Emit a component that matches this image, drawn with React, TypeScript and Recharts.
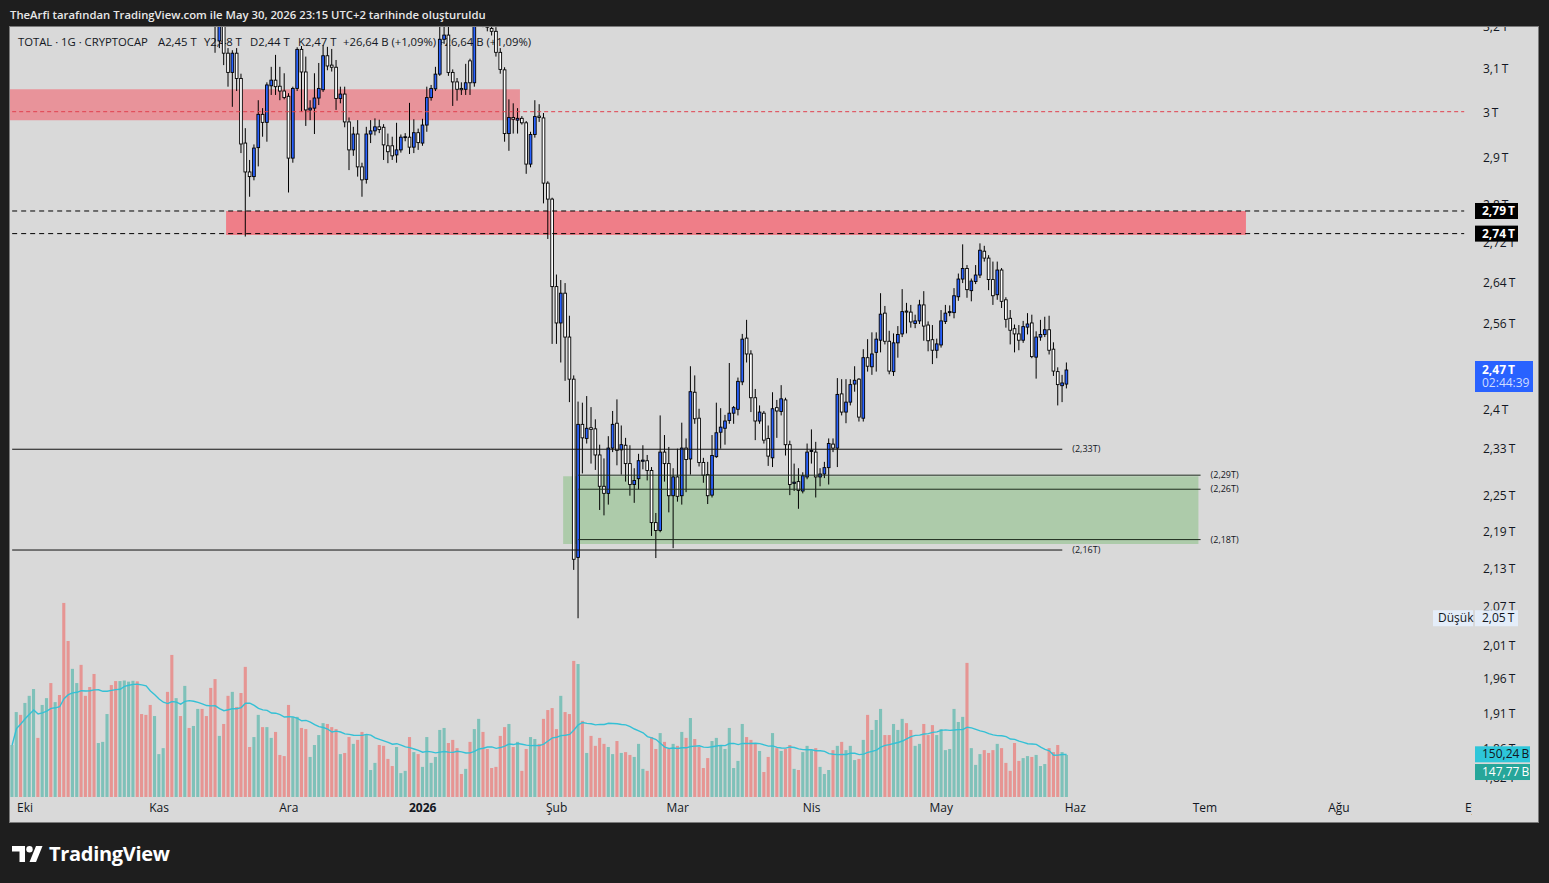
import React from 'react';
import { ComposedChart, Bar, Line, XAxis, YAxis, ReferenceArea, ReferenceLine } from 'recharts';

// Day index: 0 = 1 Oca 2026. First daily bar = 28 Eyl 2025 (-95), last = 30 May 2026 (149).
const FIRST_DAY = -95;
const LAST_SLOT = 243; // time axis runs on into the future (1 Eyl 2026)

const opens = [
  3.78, 3.86, 3.98, 3.95, 4.05, 4.12, 4.20, 4.15, 4.22, 4.28,
  4.18, 4.22, 4.10, 3.80, 3.75, 3.88, 3.95, 3.82, 3.78, 3.70,
  3.62, 3.68, 3.72, 3.78, 3.70, 3.66, 3.72, 3.80, 3.85, 3.88,
  3.82, 3.75, 3.70, 3.62, 3.65, 3.68, 3.72, 3.55, 3.40, 3.45,
  3.36, 3.42, 3.38, 3.45, 3.50, 3.42, 3.34, 3.26, 3.167, 3.23,
  3.138, 3.093, 3.138, 3.079, 2.933, 2.870, 2.860, 2.923, 2.997, 2.979,
  3.062, 3.075, 3.061, 3.050, 3.038, 2.900, 3.056, 3.147, 3.094, 3.007,
  3.011, 3.034, 3.053, 3.132, 3.110, 3.105, 3.033, 3.043, 2.980, 2.918,
  2.953, 2.881, 2.854, 2.953, 2.960, 2.969, 2.968, 2.927, 2.927, 2.907,
  2.918, 2.945, 2.946, 2.924, 2.956, 2.933, 2.973, 3.035, 3.055, 3.089,
  3.171, 3.181, 3.093, 3.071, 3.056, 3.054, 3.120, 3.069, 3.240, 3.280,
  3.220, 3.197, 3.190, 3.140, 3.099, 2.954, 2.990, 2.984, 2.988, 2.978,
  2.887, 2.952, 2.993, 2.989, 2.846, 2.812, 2.633, 2.562, 2.620, 2.535,
  2.456, 2.148, 2.374, 2.349, 2.368, 2.366, 2.320, 2.266, 2.254, 2.332,
  2.376, 2.329, 2.337, 2.305, 2.269, 2.279, 2.309, 2.310, 2.293, 2.205,
  2.192, 2.325, 2.305, 2.250, 2.282, 2.250, 2.332, 2.313, 2.432, 2.385,
  2.307, 2.286, 2.251, 2.317, 2.360, 2.367, 2.381, 2.394, 2.401, 2.451,
  2.533, 2.503, 2.422, 2.380, 2.394, 2.349, 2.315, 2.404, 2.397, 2.418,
  2.338, 2.271, 2.274, 2.258, 2.282, 2.326, 2.325, 2.282, 2.287, 2.298,
  2.339, 2.332, 2.429, 2.396, 2.414, 2.447, 2.456, 2.385, 2.496, 2.479,
  2.506, 2.529, 2.581, 2.527, 2.470, 2.524, 2.541, 2.585, 2.583, 2.561,
  2.566, 2.597, 2.558, 2.530, 2.510, 2.520, 2.565, 2.582, 2.582, 2.613,
  2.648, 2.669, 2.625, 2.643, 2.656, 2.704, 2.690, 2.647, 2.617, 2.666,
  2.607, 2.571, 2.551, 2.541, 2.529, 2.554, 2.562, 2.497, 2.535, 2.540,
  2.549, 2.512, 2.470, 2.444, 2.447,
];

const highs = [
  3.90, 4.01, 4.03, 4.08, 4.15, 4.24, 4.25, 4.26, 4.31, 4.30,
  4.25, 4.24, 4.15, 3.92, 3.92, 3.99, 3.97, 3.86, 3.81, 3.74,
  3.71, 3.76, 3.81, 3.80, 3.73, 3.75, 3.83, 3.88, 3.92, 3.90,
  3.85, 3.78, 3.72, 3.68, 3.71, 3.76, 3.74, 3.58, 3.49, 3.47,
  3.45, 3.46, 3.48, 3.53, 3.52, 3.44, 3.36, 3.28, 3.26, 3.25,
  3.150, 3.145, 3.150, 3.090, 2.966, 2.896, 2.930, 3.029, 3.011, 3.070,
  3.106, 3.134, 3.106, 3.091, 3.045, 3.060, 3.152, 3.155, 3.130, 3.029,
  3.091, 3.115, 3.157, 3.153, 3.148, 3.122, 3.060, 3.060, 2.990, 2.969,
  2.984, 2.890, 2.969, 2.984, 2.988, 2.985, 2.975, 2.954, 2.947, 2.978,
  2.952, 2.955, 3.023, 2.986, 2.965, 2.987, 3.060, 3.064, 3.106, 3.210,
  3.220, 3.210, 3.100, 3.080, 3.070, 3.113, 3.125, 3.250, 3.300, 3.300,
  3.240, 3.210, 3.200, 3.150, 3.105, 3.031, 3.022, 3.011, 2.993, 2.982,
  2.958, 3.029, 3.020, 3.000, 2.850, 2.815, 2.657, 2.646, 2.640, 2.576,
  2.463, 2.415, 2.413, 2.425, 2.405, 2.383, 2.338, 2.314, 2.353, 2.398,
  2.419, 2.372, 2.350, 2.337, 2.297, 2.322, 2.337, 2.320, 2.299, 2.221,
  2.390, 2.355, 2.334, 2.297, 2.331, 2.377, 2.349, 2.480, 2.463, 2.402,
  2.315, 2.308, 2.355, 2.413, 2.403, 2.391, 2.486, 2.407, 2.459, 2.541,
  2.568, 2.510, 2.438, 2.408, 2.398, 2.372, 2.432, 2.418, 2.445, 2.422,
  2.345, 2.305, 2.297, 2.290, 2.340, 2.365, 2.343, 2.297, 2.308, 2.349,
  2.349, 2.458, 2.456, 2.456, 2.456, 2.480, 2.458, 2.512, 2.531, 2.544,
  2.544, 2.620, 2.595, 2.547, 2.542, 2.556, 2.628, 2.601, 2.597, 2.578,
  2.607, 2.624, 2.565, 2.558, 2.532, 2.587, 2.597, 2.596, 2.630, 2.659,
  2.718, 2.676, 2.649, 2.676, 2.720, 2.715, 2.696, 2.683, 2.683, 2.670,
  2.612, 2.587, 2.559, 2.558, 2.566, 2.581, 2.578, 2.546, 2.568, 2.574,
  2.576, 2.525, 2.478, 2.464, 2.487,
];

const lows = [
  3.74, 3.84, 3.91, 3.93, 4.02, 4.09, 4.10, 4.12, 4.18, 4.14,
  4.15, 4.05, 3.62, 3.70, 3.72, 3.84, 3.78, 3.74, 3.64, 3.58,
  3.60, 3.65, 3.69, 3.66, 3.62, 3.64, 3.70, 3.77, 3.82, 3.78,
  3.71, 3.66, 3.56, 3.58, 3.61, 3.65, 3.50, 3.33, 3.36, 3.32,
  3.33, 3.34, 3.35, 3.42, 3.38, 3.30, 3.23, 3.139, 3.15, 3.110,
  3.060, 3.014, 3.050, 2.911, 2.734, 2.817, 2.852, 2.882, 2.947, 2.936,
  3.041, 3.041, 3.029, 3.031, 2.826, 2.890, 3.050, 3.003, 2.971, 2.984,
  2.953, 3.018, 3.048, 3.098, 3.095, 3.007, 3.022, 2.968, 2.874, 2.905,
  2.860, 2.817, 2.845, 2.933, 2.950, 2.955, 2.896, 2.889, 2.896, 2.890,
  2.912, 2.937, 2.909, 2.911, 2.918, 2.927, 2.958, 3.028, 3.050, 3.085,
  3.160, 3.085, 3.016, 3.028, 3.041, 3.041, 3.041, 3.060, 3.220, 3.200,
  3.190, 3.180, 3.130, 3.090, 2.936, 2.916, 2.954, 2.954, 2.974, 2.866,
  2.880, 2.945, 2.980, 2.803, 2.729, 2.522, 2.522, 2.487, 2.453, 2.414,
  2.128, 2.052, 2.288, 2.340, 2.305, 2.294, 2.226, 2.217, 2.235, 2.325,
  2.302, 2.286, 2.274, 2.250, 2.238, 2.261, 2.295, 2.276, 2.183, 2.147,
  2.189, 2.274, 2.222, 2.163, 2.240, 2.235, 2.256, 2.286, 2.375, 2.300,
  2.272, 2.236, 2.247, 2.315, 2.331, 2.338, 2.375, 2.375, 2.390, 2.445,
  2.487, 2.396, 2.346, 2.375, 2.340, 2.301, 2.299, 2.350, 2.390, 2.319,
  2.251, 2.258, 2.228, 2.254, 2.278, 2.305, 2.247, 2.266, 2.280, 2.269,
  2.325, 2.299, 2.390, 2.376, 2.408, 2.433, 2.379, 2.379, 2.470, 2.464,
  2.470, 2.506, 2.521, 2.465, 2.462, 2.496, 2.535, 2.542, 2.553, 2.552,
  2.560, 2.528, 2.508, 2.484, 2.495, 2.515, 2.560, 2.575, 2.571, 2.605,
  2.640, 2.611, 2.604, 2.638, 2.650, 2.683, 2.626, 2.597, 2.607, 2.591,
  2.553, 2.521, 2.506, 2.510, 2.524, 2.540, 2.495, 2.457, 2.528, 2.535,
  2.502, 2.462, 2.408, 2.414, 2.439,
];

const closes = [
  3.86, 3.98, 3.95, 4.05, 4.12, 4.20, 4.15, 4.22, 4.28, 4.18,
  4.22, 4.10, 3.80, 3.75, 3.88, 3.95, 3.82, 3.78, 3.70, 3.62,
  3.68, 3.72, 3.78, 3.70, 3.66, 3.72, 3.80, 3.85, 3.88, 3.82,
  3.75, 3.70, 3.62, 3.65, 3.68, 3.72, 3.55, 3.40, 3.45, 3.36,
  3.42, 3.38, 3.45, 3.50, 3.42, 3.34, 3.26, 3.205, 3.23, 3.138,
  3.093, 3.138, 3.079, 2.931, 2.870, 2.860, 2.922, 2.997, 2.979, 3.064,
  3.075, 3.060, 3.050, 3.035, 2.900, 3.056, 3.147, 3.094, 3.007, 3.011,
  3.034, 3.056, 3.132, 3.108, 3.105, 3.033, 3.043, 2.980, 2.918, 2.953,
  2.881, 2.853, 2.953, 2.960, 2.969, 2.963, 2.929, 2.914, 2.905, 2.918,
  2.946, 2.947, 2.924, 2.956, 2.934, 2.973, 3.035, 3.056, 3.089, 3.171,
  3.181, 3.093, 3.071, 3.054, 3.053, 3.069, 3.069, 3.240, 3.280, 3.220,
  3.200, 3.190, 3.140, 3.100, 2.954, 2.990, 2.986, 2.988, 2.978, 2.887,
  2.952, 2.992, 2.990, 2.846, 2.812, 2.633, 2.562, 2.620, 2.535, 2.456,
  2.145, 2.374, 2.350, 2.367, 2.365, 2.320, 2.266, 2.254, 2.332, 2.374,
  2.328, 2.338, 2.305, 2.269, 2.276, 2.310, 2.311, 2.293, 2.205, 2.192,
  2.325, 2.305, 2.250, 2.282, 2.249, 2.332, 2.312, 2.433, 2.384, 2.307,
  2.285, 2.250, 2.319, 2.359, 2.369, 2.380, 2.394, 2.404, 2.452, 2.531,
  2.503, 2.422, 2.380, 2.396, 2.346, 2.318, 2.402, 2.398, 2.420, 2.338,
  2.269, 2.273, 2.259, 2.284, 2.325, 2.328, 2.282, 2.287, 2.298, 2.340,
  2.332, 2.428, 2.396, 2.414, 2.446, 2.454, 2.387, 2.496, 2.480, 2.503,
  2.531, 2.579, 2.527, 2.471, 2.524, 2.540, 2.584, 2.583, 2.564, 2.566,
  2.597, 2.556, 2.528, 2.510, 2.522, 2.566, 2.581, 2.584, 2.615, 2.648,
  2.669, 2.627, 2.644, 2.656, 2.706, 2.690, 2.647, 2.615, 2.666, 2.604,
  2.569, 2.548, 2.541, 2.529, 2.555, 2.560, 2.498, 2.535, 2.540, 2.549,
  2.510, 2.471, 2.446, 2.449, 2.473,
];

// Volume in billions (B)
const volumes = [
  183, 299, 289, 331, 356, 380, 208, 324, 348, 401,
  334, 359, 683, 549, 451, 401, 465, 356, 387, 433,
  190, 194, 292, 394, 408, 408, 410, 406, 409, 407,
  292, 289, 324, 285, 151, 172, 370, 500, 348, 285,
  391, 243, 250, 310, 310, 285, 384, 415, 215, 257,
  356, 370, 317, 366, 458, 176, 211, 289, 246, 246,
  208, 229, 148, 144, 324, 282, 282, 243, 239, 141,
  183, 218, 260, 257, 246, 239, 151, 155, 211, 187,
  201, 229, 218, 95, 120, 183, 180, 134, 109, 176,
  84, 92, 211, 158, 151, 106, 211, 120, 141, 236,
  243, 190, 201, 172, 81, 99, 194, 239, 275, 229,
  169, 102, 106, 215, 246, 257, 176, 194, 92, 169,
  211, 204, 187, 275,
  306, 313, 239, 356, 299, 292, 479, 468, 268, 155,
  215, 180, 208, 187, 176, 151, 197, 155, 158, 148,
  141, 187, 99, 92, 211, 169, 225, 194, 169, 187,
  180, 229, 208, 278, 204, 176, 102, 137, 197, 208,
  183, 169, 243, 102, 127, 257, 211, 201, 187, 162,
  88, 141, 225, 172, 162, 169, 183, 99, 95, 158,
  180, 165, 172, 106, 81, 95, 165, 180, 194, 165,
  180, 130, 134, 201, 289, 236, 271, 310, 218, 218,
  257, 236, 275, 260, 236, 180, 187, 257, 218, 253,
  218, 239, 165, 169, 310, 264, 282, 472, 172, 113,
  151, 165, 155, 165, 187, 172, 120, 92, 190, 127,
  137, 144, 141, 148, 109, 116, 172, 158, 183, 158,
  148,
];

const priceTicks = [3.2, 3.1, 3.0, 2.9, 2.8, 2.72, 2.64, 2.56, 2.48, 2.4, 2.33, 2.25, 2.19, 2.13, 2.07, 2.01, 1.96, 1.91, 1.86, 1.82];
const monthTicks = [-92, -61, -31, 0, 31, 59, 90, 120, 151, 181, 212, 243];
const monthLabels = ['Eki', 'Kas', 'Ara', '2026', 'Şub', 'Mar', 'Nis', 'May', 'Haz', 'Tem', 'Ağu', 'Eyl'];

const PRICE_DOMAIN = [1.794, 3.2004];
const VOL_DOMAIN = [0, 2710];
const MA_LEN = 20;

// Drawn levels (price, T)
const upperZone = { x1: -95, x2: 22, y1: 2.984, y2: 3.054 };
const lowerZone = { x1: -45, x2: 190, y1: 2.737, y2: 2.787 };
const greenZone = { x1: 33, x2: 179, y1: 2.170, y2: 2.283 };
const redDashLevel = 3.003;
const blackDashLevels = [2.787, 2.740];
const longLevels = [{ y: 2.33, label: '(2,33T)' }, { y: 2.16, label: '(2,16T)' }];
const zoneLevels = [{ y: 2.285, label: '(2,29T)' }, { y: 2.261, label: '(2,26T)' }, { y: 2.177, label: '(2,18T)' }];

const lastPrice = 2.473;
const lowPrice = 2.052;
const lastVolMA = 150.24;
const lastVolume = 147.77;

const FONT = '"Trebuchet MS", "Open Sans", "Noto Sans", sans-serif';
const TXT = '#131722';

const rows: any[] = [];
for (let d = FIRST_DAY; d <= LAST_SLOT; d++) {
  const i = d - FIRST_DAY;
  if (i < closes.length) {
    const from = Math.max(0, i - MA_LEN + 1);
    let s = 0;
    for (let k = from; k <= i; k++) s += volumes[k];
    rows.push({ d, open: opens[i], high: highs[i], low: lows[i], close: closes[i], volume: volumes[i], volMA: s / (i - from + 1) });
  } else {
    rows.push({ d });
  }
}

const candleRange = (e: any) => (e.high == null ? null : [e.low, e.high]);

const Candle = (p: any) => {
  const { x, y, width, height, payload } = p;
  if (!payload || payload.high == null || !isFinite(y) || !isFinite(height)) return <g />;
  const top = height < 0 ? y + height : y;
  const h = Math.abs(height);
  const { open, close, high, low } = payload;
  const lh = Math.log(high);
  const ll = Math.log(low);
  const toY = (v: number) => top + (h * (lh - Math.log(v))) / (lh - ll);
  const cx = x + width / 2;
  const yo = toY(open);
  const yc = toY(close);
  const bt = Math.min(yo, yc);
  const bh = Math.max(Math.abs(yo - yc), 0.8);
  const up = close >= open;
  return (
    <g>
      <line x1={cx} x2={cx} y1={top} y2={top + h} stroke="#000" strokeWidth={1} />
      <rect x={cx - 1.35} y={bt} width={2.7} height={bh} fill={up ? '#2962ff' : '#ffffff'} stroke="#000" strokeWidth={0.9} />
    </g>
  );
};

const VolumeBar = (p: any) => {
  const { x, y, width, height, payload } = p;
  if (!payload || payload.volume == null || !isFinite(y)) return <g />;
  const up = payload.close >= payload.open;
  return <rect x={x + width / 2 - 1.55} y={y} width={3.1} height={Math.max(height, 0)} fill={up ? '#7fc1b9' : '#e69593'} />;
};

const MonthTick = (p: any) => {
  const i = monthTicks.indexOf(p.payload.value);
  const label = i >= 0 ? monthLabels[i] : '';
  const cid = `xclip${i}`;
  return (
    <g>
      <defs>
        <clipPath id={cid}>
          <rect x={0} y={0} width={1462} height={800} />
        </clipPath>
      </defs>
      <text x={p.x} y={p.y} dy={7} textAnchor="middle" fontSize={12} fontFamily={FONT} fontWeight={label === '2026' ? 700 : 400} fill={TXT} clipPath={`url(#${cid})`}>
        {label}
      </text>
    </g>
  );
};

const priceLabel = (v: number) => `${String(v).replace('.', ',')}\u2009T`;

const PriceTick = (p: any) => (
  <text x={p.x} y={p.y} dy={4} textAnchor="start" fontSize={12} fontFamily={FONT} fill={TXT}>
    {priceLabel(p.payload.value)}
  </text>
);

const badge = (text: string, bg: string, fg: string, w: number, dy = 0, bold = true) => (props: any) => {
  const vb = props.viewBox || { x: 0, y: 0, width: 1465, height: 0 };
  const x = vb.x + vb.width;
  const y = vb.y + dy;
  return (
    <g>
      <rect x={x} y={y - 8} width={w} height={16} fill={bg} />
      <text x={x + 7} y={y + 4} fontSize={12} fontFamily={FONT} fontWeight={bold ? 700 : 400} fill={fg}>
        {text}
      </text>
    </g>
  );
};

const lastBadge = (props: any) => {
  const vb = props.viewBox || { x: 0, y: 0, width: 1465, height: 0 };
  const x = vb.x + vb.width;
  const y = vb.y;
  return (
    <g>
      <rect x={x} y={y - 9} width={58} height={31} fill="#2962ff" />
      <text x={x + 7} y={y + 4} fontSize={12} fontFamily={FONT} fontWeight={700} fill="#ffffff">
        {priceLabel(2.47)}
      </text>
      <text x={x + 7} y={y + 17} fontSize={12} fontFamily={FONT} fill="#cfdcff">
        02:44:39
      </text>
    </g>
  );
};

const lowBadge = (props: any) => {
  const vb = props.viewBox || { x: 0, y: 0, width: 1465, height: 0 };
  const x = vb.x + vb.width;
  const y = vb.y;
  return (
    <g>
      <rect x={x - 42} y={y - 8} width={40} height={16} fill="#e4edf9" />
      <text x={x - 37} y={y + 4} fontSize={12} fontFamily={FONT} fill={TXT}>
        Düşük
      </text>
      <rect x={x} y={y - 8} width={43} height={16} fill="#e4edf9" />
      <text x={x + 7} y={y + 4} fontSize={12} fontFamily={FONT} fill={TXT}>
        {priceLabel(2.05)}
      </text>
    </g>
  );
};

const levelLabel = (text: string) => ({ value: text, position: 'right' as const, offset: 10, fill: TXT, fontSize: 9, fontFamily: FONT });

const TVLogo = () => (
  <svg width={34} height={20} viewBox="0 0 34 20" style={{ position: 'absolute', left: 12, top: 844 }}>
    <path d="M0 2 H13 V18 H7.5 V7.5 H0 Z" fill="#ffffff" />
    <circle cx={17.5} cy={5.2} r={3.2} fill="#ffffff" />
    <path d="M24 2 H30.5 L24 18 H17.5 Z" fill="#ffffff" />
  </svg>
);

const CHART_W = 1528;
const CHART_H = 795;
const MARGIN = { top: 0, right: 0, bottom: 0, left: 0 };

const legendStyle = (left: number): React.CSSProperties => ({ position: 'absolute', left, top: 34, fontSize: 11.3, color: TXT, whiteSpace: 'pre' });

export default function App() {
  return (
    <div style={{ position: 'absolute', left: 0, top: 0, width: 1549, height: 883, background: '#1e1e1e', overflow: 'hidden', fontFamily: FONT }}>
      <div style={{ position: 'absolute', left: 10, top: 7, fontSize: 11.3, fontWeight: 600, color: '#e8e8e8', whiteSpace: 'pre' }}>
        TheArfi tarafından TradingView.com ile May 30, 2026 23:15 UTC+2 tarihinde oluşturuldu
      </div>
      <div style={{ position: 'absolute', left: 9, top: 26, width: 1528, height: 795, background: '#d9d9d9', border: '1px solid #7a7a7a' }} />
      <div style={legendStyle(18)}>TOTAL · 1G · CRYPTOCAP</div>
      <div style={legendStyle(158)}>A2,45 T</div>
      <div style={legendStyle(204)}>Y2,48 T</div>
      <div style={legendStyle(250)}>D2,44 T</div>
      <div style={legendStyle(298)}>K2,47 T</div>
      <div style={legendStyle(343)}>+26,64 B (+1,09%)</div>
      <div style={legendStyle(438)}>+26,64 B (+1,09%)</div>

      {/* main chart */}
      <div style={{ position: 'absolute', left: 10, top: 27 }}>
        <ComposedChart width={CHART_W} height={CHART_H} data={rows} margin={MARGIN}>
          <XAxis dataKey="d" type="category" ticks={monthTicks} interval={0} tickLine={false} axisLine={false} height={25} tick={MonthTick} />
          <XAxis xAxisId="v" dataKey="d" type="category" hide />
          <YAxis
            yAxisId="price"
            orientation="right"
            scale="log"
            type="number"
            domain={PRICE_DOMAIN}
            allowDataOverflow
            ticks={priceTicks}
            interval={0}
            tickLine={false}
            axisLine={false}
            width={63}
            tick={PriceTick}
          />
          <YAxis yAxisId="vol" hide type="number" domain={VOL_DOMAIN} allowDataOverflow />

          <ReferenceArea yAxisId="price" x1={upperZone.x1} x2={upperZone.x2} y1={upperZone.y1} y2={upperZone.y2} fill="#e8939a" fillOpacity={1} stroke="none" />
          <ReferenceArea yAxisId="price" x1={lowerZone.x1} x2={lowerZone.x2} y1={lowerZone.y1} y2={lowerZone.y2} fill="#ef7e88" fillOpacity={1} stroke="none" />
          <ReferenceArea yAxisId="price" x1={greenZone.x1} x2={greenZone.x2} y1={greenZone.y1} y2={greenZone.y2} fill="#adcbaa" fillOpacity={1} stroke="none" />

          <ReferenceLine yAxisId="price" segment={[{ x: -95, y: redDashLevel }, { x: 241, y: redDashLevel }]} stroke="#e0404e" strokeWidth={1} strokeDasharray="4 3" />
          {blackDashLevels.map((lv) => (
            <ReferenceLine key={`bd${lv}`} yAxisId="price" segment={[{ x: -95, y: lv }, { x: 241, y: lv }]} stroke="#000000" strokeWidth={1} strokeDasharray="5 4" />
          ))}
          {longLevels.map((lv) => (
            <ReferenceLine key={`ll${lv.y}`} yAxisId="price" segment={[{ x: -95, y: lv.y }, { x: 148, y: lv.y }]} stroke="#111111" strokeWidth={1} label={levelLabel(lv.label)} />
          ))}
          {zoneLevels.map((lv) => (
            <ReferenceLine key={`zl${lv.y}`} yAxisId="price" segment={[{ x: 36, y: lv.y }, { x: 180, y: lv.y }]} stroke="#1d2b1d" strokeWidth={1} label={levelLabel(lv.label)} />
          ))}

          <Bar xAxisId="v" yAxisId="vol" dataKey="volume" shape={VolumeBar} isAnimationActive={false} />
          <Line xAxisId="v" yAxisId="vol" type="linear" dataKey="volMA" stroke="#34c0d5" strokeWidth={1.4} dot={false} activeDot={false} isAnimationActive={false} />
          <Bar yAxisId="price" dataKey={candleRange} shape={Candle} isAnimationActive={false} />
        </ComposedChart>
      </div>

      {/* price-scale badges, drawn on top of the axis labels with the same scales */}
      <div style={{ position: 'absolute', left: 10, top: 27, pointerEvents: 'none' }}>
        <ComposedChart width={CHART_W} height={CHART_H} data={rows} margin={MARGIN}>
          <XAxis dataKey="d" type="category" height={25} tick={false} tickLine={false} axisLine={false} />
          <YAxis yAxisId="price" orientation="right" scale="log" type="number" domain={PRICE_DOMAIN} allowDataOverflow width={63} tick={false} tickLine={false} axisLine={false} />
          <YAxis yAxisId="vol" hide type="number" domain={VOL_DOMAIN} allowDataOverflow />
          <ReferenceLine yAxisId="price" y={blackDashLevels[0]} stroke="none" label={badge(priceLabel(2.79), '#000000', '#ffffff', 43)} />
          <ReferenceLine yAxisId="price" y={blackDashLevels[1]} stroke="none" label={badge(priceLabel(2.74), '#000000', '#ffffff', 43)} />
          <ReferenceLine yAxisId="price" y={lastPrice} stroke="none" label={lastBadge} />
          <ReferenceLine yAxisId="price" y={lowPrice} stroke="none" label={lowBadge} />
          <ReferenceLine yAxisId="vol" y={lastVolMA} stroke="none" label={badge('150,24\u2009B', '#2ec6d9', TXT, 55, 0, false)} />
          <ReferenceLine yAxisId="vol" y={lastVolume} stroke="none" label={badge('147,77\u2009B', '#26a69a', '#ffffff', 55, 17, false)} />
        </ComposedChart>
      </div>

      <TVLogo />
      <div style={{ position: 'absolute', left: 49, top: 840, fontSize: 20, fontWeight: 700, color: '#ffffff', letterSpacing: -0.3 }}>TradingView</div>
    </div>
  );
}
